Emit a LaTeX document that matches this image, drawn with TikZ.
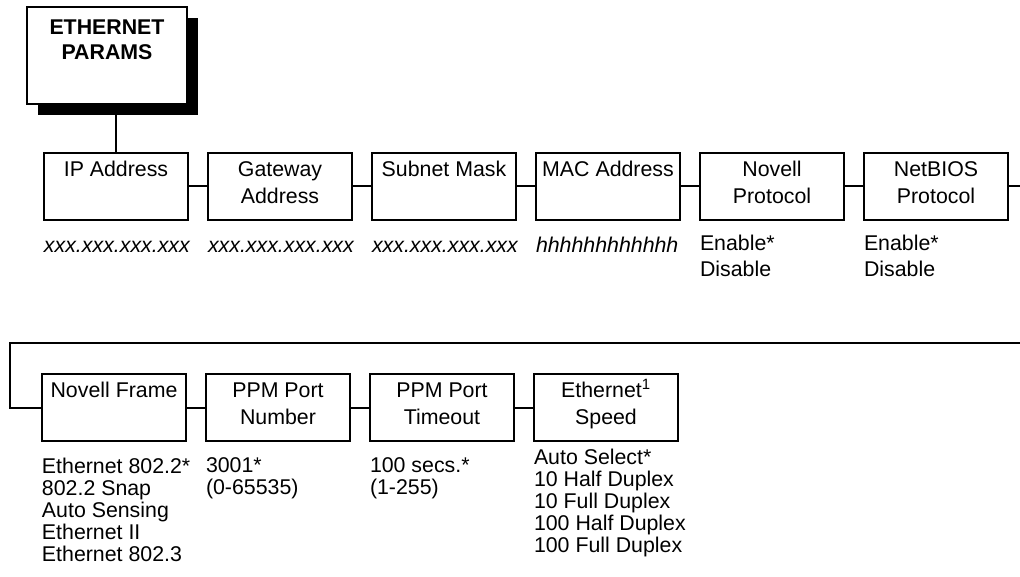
\documentclass[tikz,border=0pt]{standalone}
\usepackage{fontspec}
\setmainfont{Liberation Sans}
\usetikzlibrary{positioning, shadows}

\begin{document}
\begin{tikzpicture}[
    font=\fontsize{16pt}{20.25pt}\selectfont,
    line width=1.5pt,
    head/.style={rectangle, draw, fill=white, minimum width=120pt, minimum height=72.75pt,
                 align=center, font=\fontsize{16pt}{18.75pt}\selectfont\bfseries,
                 execute at begin node=\strut, execute at end node=\strut,
                 drop shadow={shadow xshift=8.5pt, shadow yshift=-8.5pt, fill=black, opacity=1}},
    menu/.style={rectangle, draw, minimum width=108pt, minimum height=50.25pt, align=center,
                 execute at begin node=\strut, execute at end node=\strut},
    vals/.style={anchor=north west, inner sep=0pt, align=left,
                 font=\fontsize{16pt}{19.5pt}\selectfont, execute at begin node=\strut},
    vallist/.style={vals, font=\fontsize{16pt}{16.5pt}\selectfont},
]
\useasboundingbox (-80.25pt,41.625pt) rectangle (684.75pt,-391.125pt);

% Menu head
\node[head] (eth) {ETHERNET\\PARAMS\\};

% First row of settings
\node[menu, below=35.25pt of eth.south, xshift=6.75pt] (ip) {IP Address\\};
\node[menu, right=13.5pt of ip] (gw) {Gateway\\Address};
\node[menu, right=13.5pt of gw] (mask) {Subnet Mask\\};
\node[menu, right=13.5pt of mask] (mac) {MAC Address\\};
\node[menu, right=13.5pt of mac] (novp) {Novell\\Protocol};
\node[menu, right=13.5pt of novp] (nbp) {NetBIOS\\Protocol};

\node[vals] (ipv) at ([yshift=-9.6pt]ip.south west) {\itshape xxx.xxx.xxx.xxx};
\node[vals] (gwv) at ([yshift=-9.6pt]gw.south west) {\itshape xxx.xxx.xxx.xxx};
\node[vals] (maskv) at ([yshift=-9.6pt]mask.south west) {\itshape xxx.xxx.xxx.xxx};
\node[vals] (macv) at ([yshift=-9.6pt]mac.south west) {\itshape hhhhhhhhhhhh};
\node[vals] (novpv) at ([yshift=-9.6pt]novp.south west) {Enable*\\Disable};
\node[vals] (nbpv) at ([yshift=-9.6pt]nbp.south west) {Enable*\\Disable};

% Second row of settings
\node[menu, below=114pt of ip, xshift=-1.5pt] (nframe) {Novell Frame\\};
\node[menu, right=13.5pt of nframe] (pnum) {PPM Port\\Number};
\node[menu, right=13.5pt of pnum] (ptime) {PPM Port\\Timeout};
\node[menu, right=13.5pt of ptime] (speed) {Ethernet\smash{\textsuperscript{1}}\\Speed};

\node[vallist] (nframev) at ([yshift=-11.2pt]nframe.south west)
    {Ethernet 802.2*\\802.2 Snap\\Auto Sensing\\Ethernet II\\Ethernet 802.3};
\node[vallist] (pnumv) at ([yshift=-11.2pt]pnum.south west) {3001*\\(0-65535)};
\node[vallist] (ptimev) at ([yshift=-11.2pt]ptime.south west) {100 secs.*\\(1-255)};
\node[vallist] (speedv) at ([yshift=-4.65pt]speed.south west)
    {Auto Select*\\10 Half Duplex\\10 Full Duplex\\100 Half Duplex\\100 Full Duplex};

% Connections
\coordinate (rim) at (684.75pt,0);
\coordinate[above=22.5pt of nframe.north] (wrap);
\coordinate[left=23.25pt of nframe.west] (turn);
\draw (ip.north) -- (ip.north |- eth.south);
\draw (ip) -- (gw) -- (mask) -- (mac) -- (novp) -- (nbp);
\draw (nbp) -- (nbp -| rim);
\draw (wrap -| rim) -| (turn) -- (nframe);
\draw (nframe) -- (pnum) -- (ptime) -- (speed);

\end{tikzpicture}
\end{document}
